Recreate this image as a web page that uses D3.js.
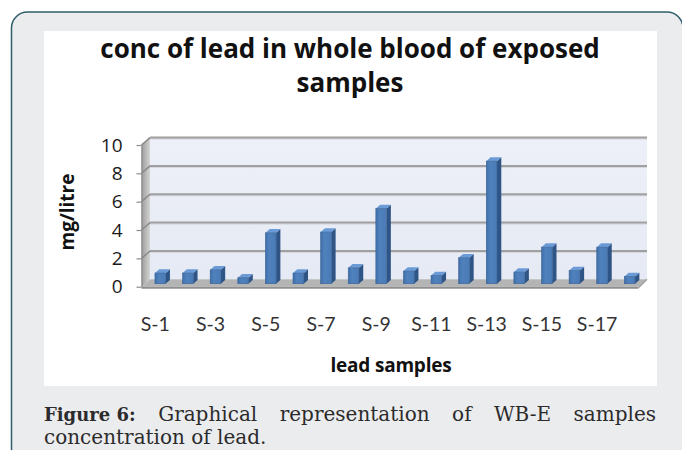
<!DOCTYPE html>
<html><head><meta charset="utf-8">
<script src="https://cdn.jsdelivr.net/npm/d3@7"></script>
<style>html,body{margin:0;padding:0;background:#fff;overflow:hidden}</style>
</head><body>
<script>
const categories = ["S-1","S-2","S-3","S-4","S-5","S-6","S-7","S-8","S-9","S-10","S-11","S-12","S-13","S-14","S-15","S-16","S-17","S-18"];
const values = [0.75,0.75,0.98,0.42,3.59,0.75,3.64,1.12,5.31,0.89,0.58,1.83,8.65,0.82,2.58,0.93,2.58,0.51];
const yTicks = [0,2,4,6,8,10];
const xTickLabels = ["S-1","S-3","S-5","S-7","S-9","S-11","S-13","S-15","S-17"];
const titleLines = ["conc of lead in whole blood of exposed","samples"];
const yTitle = "mg/litre";
const xTitle = "lead samples";
const captionBold = "Figure 6:";
const captionLine1 = ["Graphical","representation","of","WB-E","samples"];
const captionLine2 = "concentration of lead.";

const W = 682, H = 450;
const svg = d3.select("body").append("svg").attr("width", W).attr("height", H);
const defs = svg.append("defs");

// outer frame
svg.append("rect").attr("x",11.5).attr("y",12).attr("width",671.5).attr("height",480)
  .attr("rx",16).attr("fill","#ebecee").attr("stroke","#2f5d6b").attr("stroke-width",1.5);
// white chart area
svg.append("rect").attr("x",44).attr("y",31).attr("width",613).attr("height",355).attr("fill","#fff");

const chartFont = "'Open Sans', Lato, sans-serif";
const labelFont = "Lato, 'Open Sans', sans-serif";

// title
titleLines.forEach((t,i)=>{
  svg.append("text").attr("x",350).attr("y",57.5+i*34).attr("text-anchor","middle")
    .attr("font-family",chartFont).attr("font-weight","bold").attr("font-size",26)
    .attr("fill","#111").text(t);
});

// scales (front plane)
const x = d3.scaleBand().domain(categories).range([141.5, 638.5]).padding(0);
const y = d3.scaleLinear().domain([0,10]).range([286.7,145]);
const DX = 8.5, DY = -7.4; // wall depth vector
const x0 = 141.5, x1 = 638.5;

const sg = defs.append("linearGradient").attr("id","side").attr("x1","0").attr("x2","1").attr("y1","0").attr("y2","0");
sg.append("stop").attr("offset","0").attr("stop-color","#9c9c9c");
sg.append("stop").attr("offset","1").attr("stop-color","#d4d4d4");
const bw = defs.append("linearGradient").attr("id","back").attr("x1","0").attr("x2","0").attr("y1","0").attr("y2","1");
bw.append("stop").attr("offset","0").attr("stop-color","#edf0f8");
bw.append("stop").attr("offset","1").attr("stop-color","#e6eaf4");

// back wall
svg.append("polygon").attr("points",[[x0+DX,y(10)+DY],[x1+DX,y(10)+DY],[x1+DX,y(0)+DY],[x0+DX,y(0)+DY]].join(" "))
  .attr("fill","url(#back)");
// side wall
svg.append("polygon").attr("points",[[x0,y(10)],[x0+DX,y(10)+DY],[x0+DX,y(0)+DY],[x0,y(0)]].join(" "))
  .attr("fill","url(#side)");
// floor
svg.append("polygon").attr("points",[[x0,y(0)],[x0+DX,y(0)+DY],[x1+DX,y(0)+DY],[x1,y(0)]].join(" "))
  .attr("fill","#b4b4b4");
svg.append("line").attr("x1",x0).attr("x2",x1).attr("y1",y(0)+1).attr("y2",y(0)+1)
  .attr("stroke","#8f8f8f").attr("stroke-width",2);
svg.append("line").attr("x1",x1).attr("x2",x1+DX).attr("y1",y(0)+1).attr("y2",y(0)+DY)
  .attr("stroke","#a0a0a0").attr("stroke-width",1.5);

// gridlines
const grid = svg.append("g");
yTicks.filter(v=>v>0).forEach(v=>{
  grid.append("line").attr("x1",x0+DX).attr("x2",x1+DX).attr("y1",y(v)+DY+1.3).attr("y2",y(v)+DY+1.3)
    .attr("stroke","#d0d2d8").attr("stroke-width",1.2);
  grid.append("line").attr("x1",x0+DX).attr("x2",x1+DX).attr("y1",y(v)+DY).attr("y2",y(v)+DY)
    .attr("stroke","#a0a0a0").attr("stroke-width",2);
  grid.append("line").attr("x1",x0).attr("x2",x0+DX).attr("y1",y(v)).attr("y2",y(v)+DY)
    .attr("stroke","#8a8a8a").attr("stroke-width",1.5);
});

// y axis
const yAxis = d3.axisLeft(y).tickValues(yTicks).tickSize(5).tickPadding(14).tickSizeOuter(0);
const ya = svg.append("g").attr("transform",`translate(${x0},0)`).call(yAxis);
ya.select(".domain").attr("stroke","#8c8c8c").attr("stroke-width",1.2);
ya.selectAll(".tick line").attr("stroke","#8c8c8c").attr("stroke-width",1.2);
ya.selectAll(".tick text").attr("font-family",chartFont).attr("font-size",19).attr("fill","#1a1a1a");

// x axis labels
const xAxis = d3.axisBottom(x).tickValues(xTickLabels).tickSize(0).tickPadding(30.5);
const xa = svg.append("g").attr("transform",`translate(0,${y(0)})`).call(xAxis);
xa.select(".domain").remove();
xa.selectAll(".tick text").attr("font-family",labelFont).attr("font-size",19.5).attr("fill","#333");

// bars
const bfw = 10.7, bOX = 5.0, bOY = -3.0, tdx = 4.3, tdy = -3.8;
const fg = defs.append("linearGradient").attr("id","front").attr("x1","0").attr("x2","1").attr("y1","0").attr("y2","0");
fg.append("stop").attr("offset","0").attr("stop-color","#3f6fa8");
fg.append("stop").attr("offset","0.35").attr("stop-color","#4f81bd");
fg.append("stop").attr("offset","1").attr("stop-color","#4a7bb6");
const bars = svg.append("g");
categories.forEach((c,i)=>{
  const v = values[i];
  const cx = x(c) + x.bandwidth()/2;
  const fx = cx - bfw/2 + bOX;
  const ft = y(v) + bOY, fb = y(0) + bOY;
  const g = bars.append("g");
  g.append("polygon").attr("points",[[fx+bfw,ft],[fx+bfw+tdx,ft+tdy],[fx+bfw+tdx,fb+tdy],[fx+bfw,fb]].join(" "))
    .attr("fill","#2f5587");
  g.append("polygon").attr("points",[[fx,ft],[fx+tdx,ft+tdy],[fx+bfw+tdx,ft+tdy],[fx+bfw,ft]].join(" "))
    .attr("fill","#6b9bd6");
  g.append("rect").attr("x",fx).attr("y",ft).attr("width",bfw).attr("height",fb-ft)
    .attr("fill","url(#front)").attr("stroke","#3a6296").attr("stroke-width",0.6);
});

// axis titles
svg.append("text").attr("transform","translate(74,212) rotate(-90)").attr("text-anchor","middle")
  .attr("font-family",chartFont).attr("font-weight","bold").attr("font-size",19).attr("fill","#111").text(yTitle);
svg.append("text").attr("x",391).attr("y",372).attr("text-anchor","middle")
  .attr("font-family",chartFont).attr("font-weight","bold").attr("font-size",19).attr("letter-spacing",-0.2)
  .attr("fill","#111").text(xTitle);

// caption
const capFont = "'DejaVu Serif', 'Liberation Serif', serif";
const cap = svg.append("g").attr("font-family",capFont).attr("fill","#2b2b2b");
const left = 44, right = 656;
const words = [captionBold, ...captionLine1];
const nodes = words.map((w,i)=>cap.append("text").attr("y",421)
  .attr("font-size", i===0?18:20).attr("font-weight", i===0?"bold":"normal").text(w));
const widths = nodes.map(n=>n.node().getComputedTextLength());
const total = d3.sum(widths);
const gap = (right-left-total)/(words.length-1);
let cx = left;
nodes.forEach((n,i)=>{ n.attr("x",cx); cx += widths[i] + gap; });
cap.append("text").attr("x",left).attr("y",444).attr("font-size",20).text(captionLine2);
</script>
</body></html>
